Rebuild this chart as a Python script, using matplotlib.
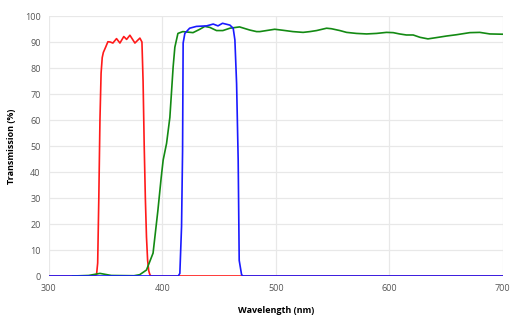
import matplotlib.pyplot as plt

red = '#ff1a1a'
green = '#138a13'
blue = '#1a1aff'
grid = '#e8e8e8'
label_grey = '#555555'

# filter spectra, (nm, %T)
red_nm = [300, 340, 342, 343, 344, 345, 346, 347, 348, 350, 352, 354, 356.4,
          359.6, 362.6, 366, 368.5, 371.4, 375.8, 380.2, 382, 383, 384, 385,
          386, 387, 388, 389, 390, 700]
red_t = [0, 0, 0.5, 5, 30, 60, 78, 84, 86, 88, 90.1, 90, 89.6,
         91.3, 89.6, 92.1, 91, 92.6, 89.6, 91.5, 90, 75, 50, 30,
         15, 6, 2, 0.5, 0, 0]

green_nm = [321, 335, 340, 345, 350, 355, 375, 380, 386, 391.8, 396, 399,
            400.7, 403.7, 406.6, 409.5, 411, 413.7, 418, 427, 433, 437.4,
            441.9, 447.7, 453.3, 459.5, 468, 477, 483, 485.9, 499, 506.4,
            515, 524, 530, 535.9, 544.7, 549, 556.4, 562.3, 571, 580, 588.7,
            597.5, 603.4, 609, 615, 621, 627, 634, 641.6, 650.4, 659.2,
            670.9, 679.7, 688.5, 698.8, 700]
green_t = [0, 0.2, 0.6, 1.0, 0.6, 0.2, 0.1, 0.5, 2.3, 8.8, 25, 38,
           44.6, 51, 61, 80.5, 88, 93.3, 94, 93.6, 94.9, 96,
           95.6, 94.4, 94.4, 95.3, 95.8, 94.6, 94, 94, 94.9, 94.5,
           94, 93.7, 94, 94.4, 95.3, 95.1, 94.4, 93.7, 93.3, 93.1, 93.3,
           93.7, 93.6, 93.1, 92.7, 92.7, 91.8, 91.2, 91.7, 92.3, 92.8,
           93.6, 93.7, 93.1, 93, 93]

blue_nm = [300, 414, 415.4, 416.9, 417.8, 418.3, 419.8, 424, 430, 439,
           444.8, 449, 453, 459.5, 462.4, 463.9, 465.4, 466.8, 467.7,
           469.8, 471, 700]
blue_t = [0, 0, 1, 19, 48, 89.6, 93.3, 95.3, 96, 96.2,
          96.9, 96.2, 97.2, 96.5, 95.3, 90.8, 74, 44.6, 6,
          0.5, 0, 0]

plt.rcParams['font.family'] = ['Open Sans', 'DejaVu Sans']

fig = plt.figure(figsize=(5.2, 3.2), dpi=100)
ax = fig.add_axes([0.094, 0.1375, 0.873, 0.8125])

ax.plot(red_nm, red_t, color=red, linewidth=1.2)
ax.plot(green_nm, green_t, color=green, linewidth=1.2)
ax.plot(blue_nm, blue_t, color=blue, linewidth=1.2)

ax.set_xlim(300, 700)
ax.set_ylim(0, 100)
ax.set_xticks([300, 400, 500, 600, 700])
ax.set_yticks(range(0, 101, 10))
ax.grid(True, color=grid, linewidth=0.9)
ax.set_axisbelow(True)
for s in ax.spines.values():
    s.set_visible(False)
ax.tick_params(length=0, labelsize=6.5, labelcolor=label_grey, pad=6)

ax.set_xlabel('Wavelength (nm)', fontsize=6.5, fontweight='bold', labelpad=9)
ax.set_ylabel('Transmission (%)', fontsize=6.5, fontweight='bold', labelpad=6)

fig.savefig('out.png', dpi=100)
